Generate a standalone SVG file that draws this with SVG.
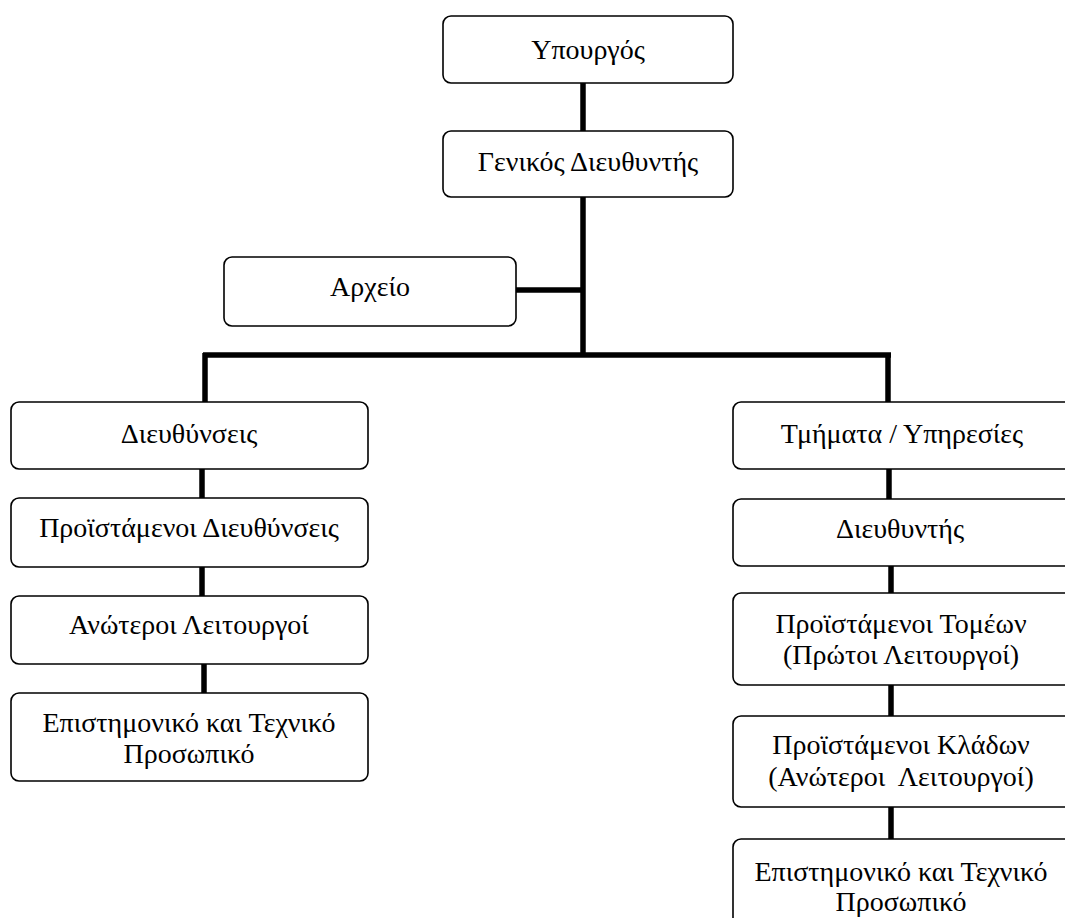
<svg xmlns="http://www.w3.org/2000/svg" width="1065" height="918" viewBox="0 0 1065 918">
<style>
.box{fill:#fff;stroke:#000;stroke-width:1.6}
.t{font-family:"Liberation Serif","DejaVu Serif",serif;font-size:28px;text-anchor:middle;fill:#000}
.c{stroke:#000;stroke-width:5.5;fill:none}
</style>
<rect width="1065" height="918" fill="#fff"/>
<g id="connectors">
<line class="c" x1="583" y1="83" x2="583" y2="131"/>
<line class="c" x1="583" y1="197" x2="583" y2="355"/>
<line class="c" x1="516" y1="290" x2="583" y2="290"/>
<line class="c" x1="203" y1="355" x2="891" y2="355"/>
<line class="c" x1="205" y1="353" x2="205" y2="402"/>
<line class="c" x1="888" y1="353" x2="888" y2="402"/>
<line class="c" x1="202" y1="469" x2="202" y2="498"/>
<line class="c" x1="202" y1="567" x2="202" y2="596"/>
<line class="c" x1="204" y1="664" x2="204" y2="693"/>
<line class="c" x1="889" y1="469" x2="889" y2="499"/>
<line class="c" x1="891" y1="566" x2="891" y2="593"/>
<line class="c" x1="891" y1="685" x2="891" y2="716"/>
<line class="c" x1="891" y1="807" x2="891" y2="839"/>
</g>
<g id="n-minister"><rect class="box" x="443" y="16" width="290" height="67" rx="8"/><text class="t" x="588" y="59">Υπουργός</text></g>
<g id="n-gendir"><rect class="box" x="443" y="131" width="290" height="66" rx="8"/><text class="t" x="588" y="171">Γενικός Διευθυντής</text></g>
<g id="n-archive"><rect class="box" x="224" y="257" width="292" height="69" rx="8"/><text class="t" x="370" y="296">Αρχείο</text></g>
<g id="n-dir"><rect class="box" x="11" y="402" width="357" height="67" rx="8"/><text class="t" x="189" y="443">Διευθύνσεις</text></g>
<g id="n-dirheads"><rect class="box" x="11" y="498" width="357" height="69" rx="8"/><text class="t" x="189" y="537">Προϊστάμενοι Διευθύνσεις</text></g>
<g id="n-senior"><rect class="box" x="11" y="596" width="357" height="68" rx="8"/><text class="t" x="189" y="634">Ανώτεροι Λειτουργοί</text></g>
<g id="n-staff-l"><rect class="box" x="11" y="693" width="357" height="88" rx="8"/><text class="t" x="189" y="732">Επιστημονικό και Τεχνικό</text><text class="t" x="189" y="763">Προσωπικό</text></g>
<g id="n-depts"><rect class="box" x="733" y="402" width="345" height="67" rx="8"/><text class="t" x="902" y="443">Τμήματα / Υπηρεσίες</text></g>
<g id="n-director"><rect class="box" x="733" y="499" width="345" height="67" rx="8"/><text class="t" x="900" y="538">Διευθυντής</text></g>
<g id="n-sectors"><rect class="box" x="733" y="593" width="345" height="92" rx="8"/><text class="t" x="901" y="633">Προϊστάμενοι Τομέων</text><text class="t" x="901" y="664">(Πρώτοι Λειτουργοί)</text></g>
<g id="n-branches"><rect class="box" x="733" y="716" width="345" height="91" rx="8"/><text class="t" x="901" y="754">Προϊστάμενοι Κλάδων</text><text class="t" x="901" y="786" xml:space="preserve">(Ανώτεροι  Λειτουργοί)</text></g>
<g id="n-staff-r"><rect class="box" x="733" y="839" width="345" height="100" rx="8"/><text class="t" x="901" y="881">Επιστημονικό και Τεχνικό</text><text class="t" x="901" y="911">Προσωπικό</text></g>
</svg>
